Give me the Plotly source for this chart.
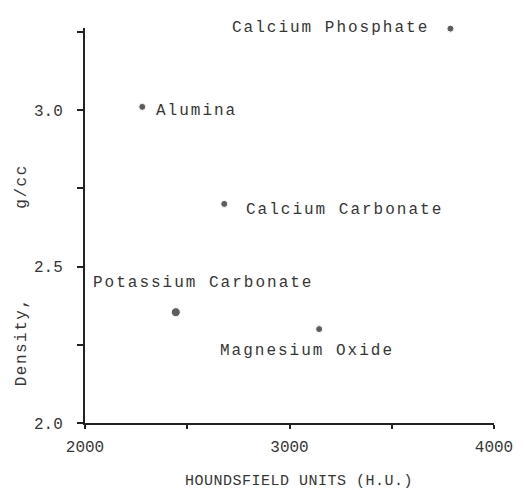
import plotly.graph_objects as go

# ---- data ----
materials = ["Calcium Phosphate", "Alumina", "Calcium Carbonate",
             "Potassium Carbonate", "Magnesium Oxide"]
hounsfield = [3787, 2280, 2681, 2444, 3145]
density = [3.26, 3.01, 2.70, 2.354, 2.30]

x_tickvals = [2000, 2500, 3000, 3500, 4000]
x_ticktext = ["2000", "", "3000", "", "4000"]
y_tickvals = [2.0, 2.25, 2.5, 2.75, 3.0, 3.25]
y_ticktext = ["2.0", "", "2.5", "", "3.0", ""]

x_title = "HOUNDSFIELD UNITS (H.U.)"
y_title = "Density," + "\u00a0" * 8 + "g/cc"

# ---- style ----
FONT = "Liberation Mono, Courier New, monospace"
TXT = "#363636"
marker_sizes = [7, 7, 7, 9, 7]
# label placement per point: (xanchor, xshift, yshift)
label_pos = [("right", -19, 1), ("left", 12, -4), ("left", 20, -6),
             ("center", 27, 29), ("center", -12, -22)]

fig = go.Figure()
fig.add_trace(go.Scatter(
    x=hounsfield, y=density, mode="markers",
    marker=dict(color="#1a1a1a", size=marker_sizes),
    cliponaxis=False, showlegend=False, hoverinfo="skip"))

for i, name in enumerate(materials):
    xa, xs, ys = label_pos[i]
    fig.add_annotation(
        x=hounsfield[i], y=density[i], xref="x", yref="y",
        text=f'<span style="letter-spacing:2px">{name}</span>',
        showarrow=False, xanchor=xa, yanchor="middle",
        xshift=xs, yshift=ys,
        font=dict(family=FONT, size=16, color=TXT))

fig.add_annotation(
    x=0.524, y=-0.147, xref="paper", yref="paper",
    text=f'<span style="letter-spacing:0.5px">{x_title}</span>',
    showarrow=False, xanchor="center", yanchor="middle",
    font=dict(family=FONT, size=15, color=TXT))
fig.add_annotation(
    x=-0.152, y=0.3735, xref="paper", yref="paper",
    text=f'<span style="letter-spacing:1.5px">{y_title}</span>',
    textangle=-90, showarrow=False, xanchor="center", yanchor="middle",
    font=dict(family=FONT, size=16, color=TXT))

axis_common = dict(
    showline=True, linecolor="#222222", linewidth=2,
    showgrid=False, zeroline=False, ticks="outside",
    tickcolor="#222222", tickwidth=2, mirror=False,
    tickfont=dict(family=FONT, size=16, color=TXT),
)
fig.update_xaxes(range=[2000, 4000], tickmode="array",
                 tickvals=x_tickvals, ticktext=x_ticktext,
                 ticklen=4, ticklabelstandoff=4, **axis_common)
fig.update_yaxes(range=[2.0, 3.262], tickmode="array",
                 tickvals=y_tickvals, ticktext=y_ticktext,
                 ticklen=6, ticklabelstandoff=11, **axis_common)

fig.update_layout(
    width=525, height=490,
    margin=dict(l=85, r=26, t=28, b=67),
    paper_bgcolor="white", plot_bgcolor="white",
    font=dict(family=FONT, color=TXT),
)

fig.write_html("out.html", config={"displayModeBar": False},
               post_script="document.body.style.margin='0';")
